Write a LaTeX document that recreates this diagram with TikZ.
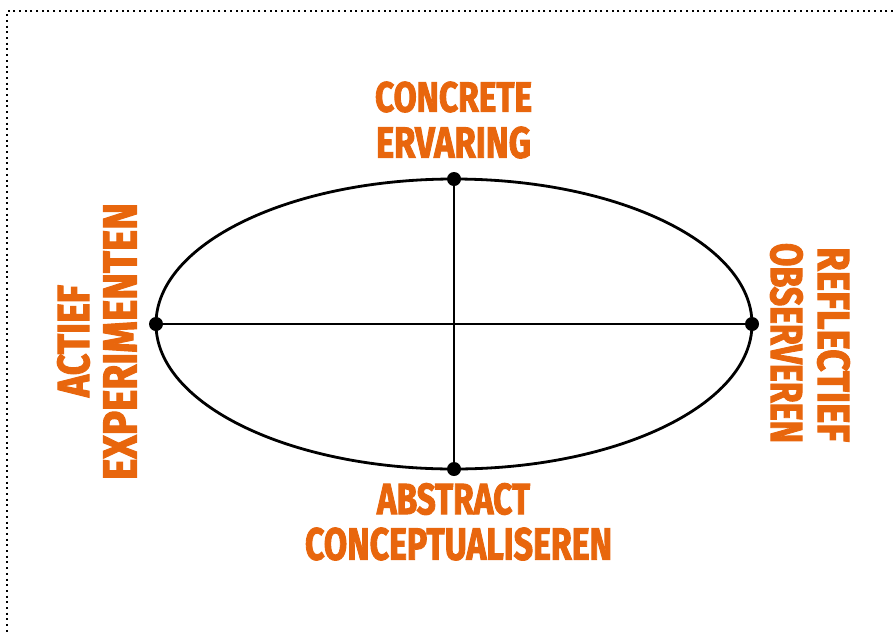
\documentclass[tikz,border=0pt]{standalone}
\usepackage{fontspec}
\setmainfont{Fira Sans}[BoldFeatures={FakeBold=2.5}]
\usepackage{graphicx}
\definecolor{lborange}{HTML}{E8660D}
\begin{document}
\begin{tikzpicture}[x=1pt,y=-1pt,
  lbl/.style={text=lborange,font=\bfseries,inner sep=0pt,anchor=center},
  pt/.style={circle,fill=black,inner sep=0pt,minimum size=14pt},
  frame/.style={line width=2pt,dash pattern=on 2pt off 3.7pt},
  axis/.style={line width=2.4pt},
  ring/.style={line width=2.8pt}]
\useasboundingbox (0,0) rectangle (893,632);
\draw[frame] (893,11) -- (7,11) -- (7,632);
\coordinate (c) at (454,324);
\draw[ring] (c) ellipse [x radius=298, y radius=145];
\node[pt] (top) at (454,179) {};
\node[pt] (bottom) at (454,469) {};
\node[pt] (left) at (156,324) {};
\node[pt] (right) at (752,324) {};
\draw[axis] (left) -- (right);
\draw[axis] (top) -- (bottom);
% top
\node[lbl] (t1) at (453.5,97) {\resizebox{157pt}{30pt}{CONCRETE}};
\node[lbl] (t2) at (453.5,142.5) {\resizebox{155pt}{31pt}{ERVARING}};
% bottom
\node[lbl] (b1) at (453.5,499) {\resizebox{153pt}{31pt}{ABSTRACT}};
\node[lbl] (b2) at (458.5,544) {\resizebox{307pt}{32pt}{CONCEPTUALISEREN}};
% left
\node[lbl,rotate=90] (l1) at (73.5,341) {\resizebox{112pt}{32pt}{ACTIEF}};
\node[lbl,rotate=90] (l2) at (120,341.5) {\resizebox{277pt}{33pt}{EXPERIMENTEN}};
% right
\node[lbl,rotate=-90] (r1) at (833.5,344.5) {\resizebox{195pt}{32pt}{REFLECTIEF}};
\node[lbl,rotate=-90] (r2) at (786.5,343) {\resizebox{200pt}{32pt}{OBSERVEREN}};
\end{tikzpicture}
\end{document}
